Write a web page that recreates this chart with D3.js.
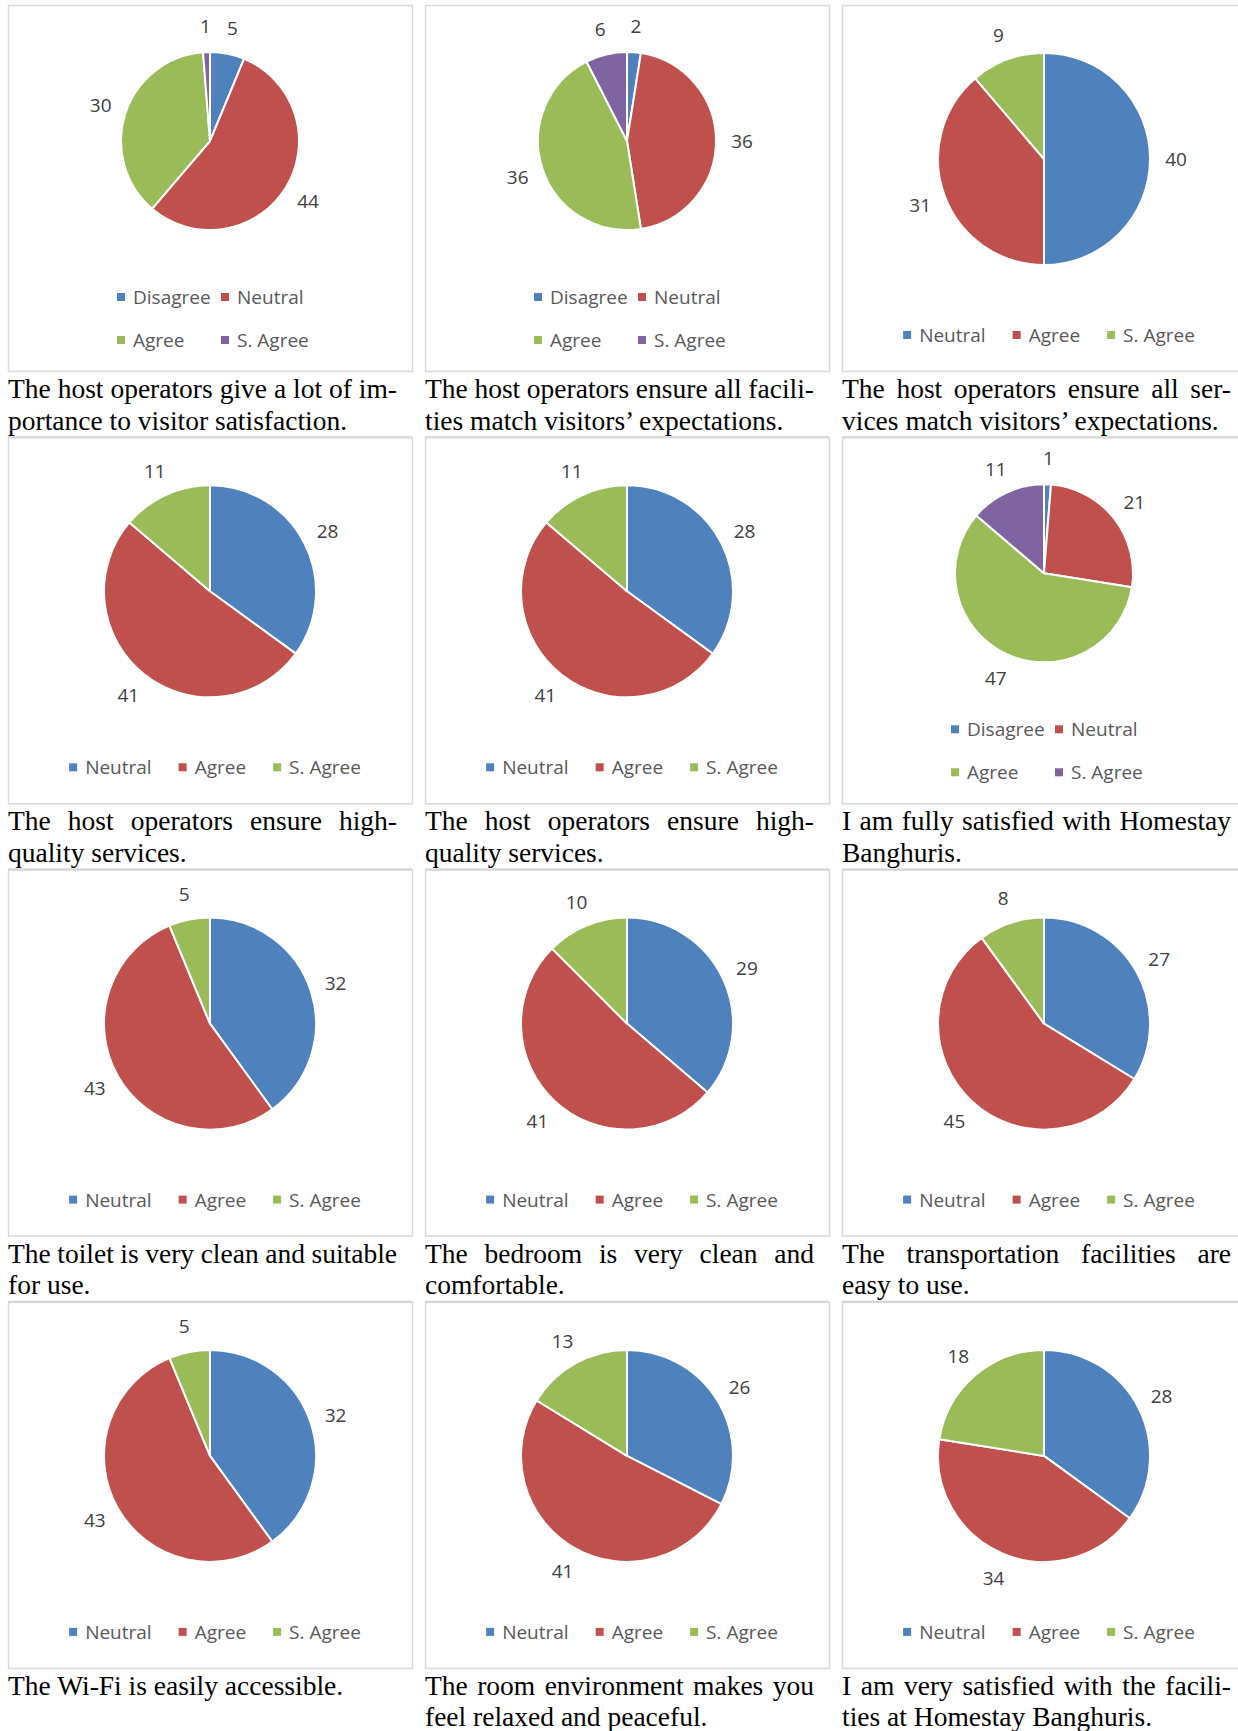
<!DOCTYPE html>
<html>
<head>
<meta charset="utf-8">
<title>Homestay Banghuris satisfaction</title>
<script src="https://d3js.org/d3.v7.min.js"></script>
<style>
  body { margin: 0; background: #fff; }
  svg { display: block; }
  .lbl { font-family: "Open Sans", sans-serif; font-size: 19px; fill: #404040; }
  .leg { font-family: "Open Sans", sans-serif; font-size: 19px; fill: #595959; }
  .cap { font-family: "Liberation Serif", "Times New Roman", serif; font-size: 27.5px; fill: #000; }
</style>
</head>
<body>
<div id="container"></div>
<script>
// categories
const cats4 = ["Disagree", "Neutral", "Agree", "S. Agree"]
const cats3 = ["Neutral", "Agree", "S. Agree"]
const palette = ["#4F81BD", "#C0504D", "#9BBB59", "#8064A2"]

// series values, one list per chart
const v1 = [5, 44, 30, 1]
const v2 = [2, 36, 36, 6]
const v3 = [40, 31, 9]
const v4 = [28, 41, 11]
const v5 = [28, 41, 11]
const v6 = [1, 21, 47, 11]
const v7 = [32, 43, 5]
const v8 = [29, 41, 10]
const v9 = [27, 45, 8]
const v10 = [32, 43, 5]
const v11 = [26, 41, 13]
const v12 = [28, 34, 18]

// captions, one entry per line
const captions = [
  ["The host operators give a lot of im-", "portance to visitor satisfaction."],
  ["The host operators ensure all facili-", "ties match visitors’ expectations."],
  ["The host operators ensure all ser-", "vices match visitors’ expectations."],
  ["The host operators ensure high-", "quality services."],
  ["The host operators ensure high-", "quality services."],
  ["I am fully satisfied with Homestay", "Banghuris."],
  ["The toilet is very clean and suitable", "for use."],
  ["The bedroom is very clean and", "comfortable."],
  ["The transportation facilities are", "easy to use."],
  ["The Wi-Fi is easily accessible."],
  ["The room environment makes you", "feel relaxed and peaceful."],
  ["I am very satisfied with the facili-", "ties at Homestay Banghuris."]
]

const values = [v1, v2, v3, v4, v5, v6, v7, v8, v9, v10, v11, v12]

const W = 1238, H = 1731
const colX = [8, 425, 842]
const boxW = 404, boxH = 366
const rowStep = 432.3
const capW = 389

const svg = d3.select("#container").append("svg")
  .attr("width", W).attr("height", H)

const pie = d3.pie().sort(null).startAngle(0).endAngle(2 * Math.PI)

values.forEach((vals, i) => {
  const col = i % 3, row = Math.floor(i / 3)
  const left = colX[col], top = 5 + row * rowStep
  const four = vals.length === 4
  const cats = four ? cats4 : cats3
  const r = four ? 89 : 106
  const cx = left + 202
  const cy = top + (four ? 136 : 154)

  const g = svg.append("g")

  // chart frame
  g.append("rect")
    .attr("x", left + 0.5).attr("y", top + 0.5)
    .attr("width", boxW).attr("height", boxH)
    .attr("fill", "#fff").attr("stroke", "#d9d9d9").attr("stroke-width", 1.5)

  // caption rule
  if (row < 3) {
    g.append("line")
      .attr("x1", left).attr("x2", left + boxW)
      .attr("y1", top + 432).attr("y2", top + 432)
      .attr("stroke", "#d0d0d0").attr("stroke-width", 1.5)
  }

  const arcs = pie(vals)
  const arc = d3.arc().innerRadius(0).outerRadius(r)
  const pg = g.append("g").attr("transform", `translate(${cx},${cy})`)
  pg.selectAll("path").data(arcs).enter().append("path")
    .attr("d", arc)
    .attr("fill", (d, k) => palette[k])
    .attr("stroke", "#fff").attr("stroke-width", 2).attr("stroke-linejoin", "round")

  pg.selectAll("text").data(arcs).enter().append("text")
    .attr("class", "lbl")
    .attr("text-anchor", "middle")
    .attr("dominant-baseline", "central")
    .attr("transform", d => {
      const a = (d.startAngle + d.endAngle) / 2
      const dd = r + 26
      return `translate(${Math.sin(a) * dd},${-Math.cos(a) * dd})`
    })
    .text(d => d.data)

  // legend
  const lg = g.append("g")
  if (four) {
    const pos = [[cx - 93, top + 292], [cx + 11, top + 292], [cx - 93, top + 335], [cx + 11, top + 335]]
    cats.forEach((c, k) => {
      lg.append("rect").attr("x", pos[k][0]).attr("y", pos[k][1] - 4)
        .attr("width", 8).attr("height", 8).attr("fill", palette[k])
      lg.append("text").attr("class", "leg")
        .attr("x", pos[k][0] + 16).attr("y", pos[k][1])
        .attr("dominant-baseline", "central").text(c)
    })
  } else {
    const ly = top + 330
    const items = cats.map((c, k) => {
      const t = lg.append("text").attr("class", "leg")
        .attr("y", ly).attr("dominant-baseline", "central").text(c)
      return { t, k, w: t.node().getComputedTextLength() + 16 }
    })
    const gap = 27
    const total = d3.sum(items, d => d.w) + gap * (items.length - 1)
    let x = cx + 5 - total / 2
    items.forEach(it => {
      lg.append("rect").attr("x", x).attr("y", ly - 4)
        .attr("width", 8).attr("height", 8).attr("fill", palette[it.k])
      it.t.attr("x", x + 16)
      x += it.w + gap
    })
  }

  // caption, justified except last line
  const lines = captions[i]
  lines.forEach((line, li) => {
    const y = top + 393 + li * 31.5
    const last = li === lines.length - 1
    if (last) {
      g.append("text").attr("class", "cap").attr("x", left).attr("y", y).text(line)
      return
    }
    const words = line.split(" ")
    const ws = words.map(w => {
      const t = g.append("text").attr("class", "cap").attr("y", y).text(w)
      return { t, w: t.node().getComputedTextLength() }
    })
    const space = (capW - d3.sum(ws, d => d.w)) / (words.length - 1)
    let x = left
    ws.forEach(d => {
      d.t.attr("x", x)
      x += d.w + space
    })
  })
})
</script>
</body>
</html>
